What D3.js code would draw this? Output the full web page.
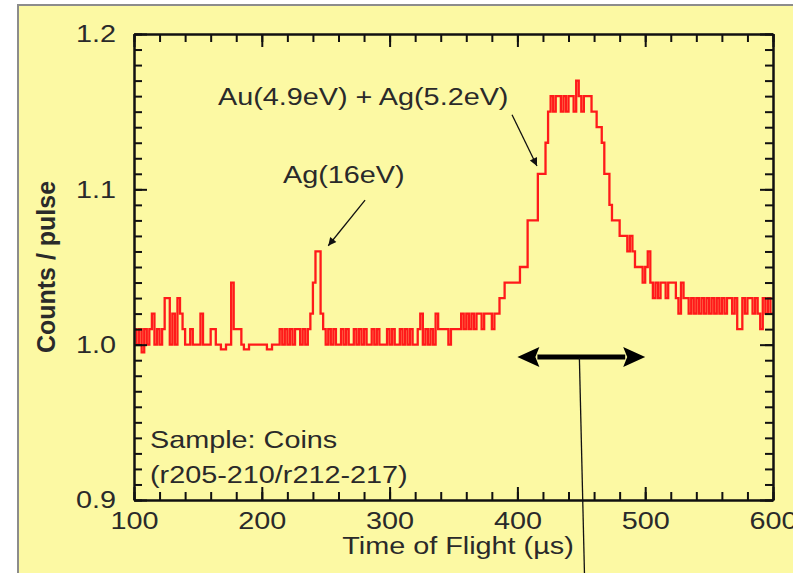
<!DOCTYPE html>
<html lang="en">
<head>
<meta charset="UTF-8" />
<title>Time of flight</title>
<script src="https://cdn.jsdelivr.net/npm/d3@7"></script>
<style>
  body { margin: 0; background: #fff; }
  svg { display: block; }
</style>
</head>
<body>
<svg id="svg"></svg>
<script>
  // TOF spectrum, 2 us bins starting at 100 us
  const tofStart = 100;
  const binWidth = 2;
  const counts = [
    1.01, 1.00, 1.01, 0.995, 1.01, 1.00, 1.01, 1.02, 1.00, 1.01,
    1.00, 1.01, 1.03, 1.03, 1.00, 1.02, 1.00, 1.03, 1.02, 1.01,
    1.00, 1.00, 1.01, 1.00, 1.00, 1.00, 1.02, 1.00, 1.00, 1.00,
    1.01, 1.01, 1.00, 1.00, 0.997, 0.997, 1.00, 1.00, 1.04, 1.01,
    1.01, 1.01, 1.00, 0.997, 0.997, 1.00, 1.00, 1.00, 1.00, 1.00,
    1.00, 1.00, 0.997, 0.997, 1.00, 1.00, 1.00, 1.01, 1.00, 1.01,
    1.00, 1.01, 1.00, 1.01, 1.01, 1.00, 1.01, 1.00, 1.01, 1.02,
    1.04, 1.06, 1.06, 1.02, 1.01, 1.00, 1.01, 1.00, 1.01, 1.00,
    1.00, 1.01, 1.00, 1.01, 1.00, 1.00, 1.01, 1.00, 1.01, 1.00,
    1.01, 1.00, 1.00, 1.01, 1.00, 1.01, 1.00, 1.00, 1.00, 1.01,
    1.00, 1.01, 1.00, 1.00, 1.01, 1.00, 1.01, 1.00, 1.01, 1.00,
    1.00, 1.01, 1.02, 1.00, 1.01, 1.00, 1.01, 1.00, 1.02, 1.01,
    1.01, 1.01, 1.01, 1.00, 1.01, 1.01, 1.01, 1.01, 1.02, 1.01,
    1.02, 1.01, 1.02, 1.01, 1.02, 1.02, 1.01, 1.02, 1.02, 1.02,
    1.01, 1.02, 1.02, 1.03, 1.03, 1.04, 1.04, 1.04, 1.04, 1.04,
    1.04, 1.05, 1.05, 1.05, 1.08, 1.08, 1.08, 1.08, 1.11, 1.11,
    1.11, 1.13, 1.15, 1.16, 1.15, 1.16, 1.16, 1.15, 1.16, 1.15,
    1.16, 1.16, 1.15, 1.17, 1.16, 1.15, 1.16, 1.16, 1.16, 1.15,
    1.15, 1.14, 1.14, 1.13, 1.11, 1.11, 1.09, 1.08, 1.08, 1.08,
    1.07, 1.07, 1.07, 1.06, 1.07, 1.06, 1.05, 1.05, 1.05, 1.04,
    1.05, 1.06, 1.04, 1.03, 1.04, 1.03, 1.04, 1.04, 1.03, 1.04,
    1.04, 1.04, 1.03, 1.02, 1.04, 1.03, 1.03, 1.02, 1.03, 1.02,
    1.03, 1.02, 1.03, 1.02, 1.03, 1.02, 1.03, 1.02, 1.03, 1.02,
    1.03, 1.02, 1.03, 1.03, 1.02, 1.03, 1.01, 1.01, 1.03, 1.02,
    1.03, 1.03, 1.02, 1.03, 1.02, 1.01, 1.03, 1.02, 1.03, 1.02
  ];
  const xTicks = [100, 200, 300, 400, 500, 600];
  const yTicks = [0.9, 1.0, 1.1, 1.2];
  const xMinor = d3.range(100, 601, 20);
  const yMinor = d3.range(90, 121).map(d => d / 100);

  const width = 793, height = 573;
  const bg = "#fcf9a3";
  const font = "'Liberation Sans', Arial, sans-serif";
  const fs = 24;
  const sx = 1.2; // original figure is stretched horizontally

  const svg = d3.select("#svg").attr("width", width).attr("height", height);

  svg.append("rect")
    .attr("x", 18).attr("y", 5)
    .attr("width", 800).attr("height", 600)
    .attr("fill", bg)
    .attr("stroke", "#8c8c8c")
    .attr("stroke-width", 2);

  const x = d3.scaleLinear().domain([100, 600]).range([134, 773]);
  const y = d3.scaleLinear().domain([0.9, 1.2]).range([500, 34]);

  const defs = svg.append("defs");
  defs.append("marker")
    .attr("id", "head")
    .attr("viewBox", "0 0 10 10")
    .attr("refX", 10).attr("refY", 5)
    .attr("markerWidth", 12).attr("markerHeight", 8)
    .attr("markerUnits", "userSpaceOnUse")
    .attr("orient", "auto")
    .append("path").attr("d", "M0,0L10,5L0,10z").attr("fill", "#111");

  // data
  const pts = counts.map((c, i) => [tofStart + i * binWidth, c]);
  pts.push([600, counts[counts.length - 1]]);
  const line = d3.line()
    .x(d => x(d[0]))
    .y(d => y(d[1]))
    .curve(d3.curveStepAfter);
  svg.append("path")
    .datum(pts)
    .attr("d", line)
    .attr("fill", "none")
    .attr("stroke", "#ff1a1a")
    .attr("stroke-width", 2.3);

  // axes, ticks pointing inwards on all four sides
  function styleAxis(g) {
    g.selectAll("path, line").attr("stroke", "#111").attr("stroke-width", 2);
    g.selectAll("text")
      .attr("font-family", font)
      .attr("font-size", fs)
      .attr("fill", "#2a2a2a")
      .attr("transform", `scale(${sx},1)`);
  }
  const axB = svg.append("g").attr("transform", `translate(0,${y(0.9)})`);
  axB.append("g").call(d3.axisBottom(x).tickValues(xMinor).tickFormat("").tickSizeInner(-8).tickSizeOuter(0)).call(styleAxis);
  axB.append("g").call(d3.axisBottom(x).tickValues(xTicks).tickFormat(d3.format("d")).tickSizeInner(-13).tickSizeOuter(0).tickPadding(12)).call(styleAxis);

  const axT = svg.append("g").attr("transform", `translate(0,${y(1.2)})`);
  axT.append("g").call(d3.axisTop(x).tickValues(xMinor).tickFormat("").tickSizeInner(-8).tickSizeOuter(0)).call(styleAxis);
  axT.append("g").call(d3.axisTop(x).tickValues(xTicks).tickFormat("").tickSizeInner(-13).tickSizeOuter(0)).call(styleAxis);

  const axL = svg.append("g").attr("transform", `translate(${x(100)},0)`);
  axL.append("g").call(d3.axisLeft(y).tickValues(yMinor).tickFormat("").tickSizeInner(-8).tickSizeOuter(0)).call(styleAxis);
  axL.append("g").call(d3.axisLeft(y).tickValues(yTicks).tickFormat(d3.format(".1f")).tickSizeInner(-13).tickSizeOuter(0).tickPadding(15)).call(styleAxis);

  const axR = svg.append("g").attr("transform", `translate(${x(600)},0)`);
  axR.append("g").call(d3.axisRight(y).tickValues(yMinor).tickFormat("").tickSizeInner(-8).tickSizeOuter(0)).call(styleAxis);
  axR.append("g").call(d3.axisRight(y).tickValues(yTicks).tickFormat("").tickSizeInner(-13).tickSizeOuter(0)).call(styleAxis);

  // text helper
  function label(px, py, str, opts = {}) {
    return svg.append("text")
      .attr("transform", `translate(${px},${py}) scale(${opts.sx || sx},1)` + (opts.rot ? ` rotate(${opts.rot})` : ""))
      .attr("text-anchor", opts.anchor || "start")
      .attr("font-family", font)
      .attr("font-size", opts.size || fs)
      .attr("font-weight", opts.weight || "normal")
      .attr("fill", "#2a2a2a")
      .text(str);
  }

  label(458, 554, "Time of Flight (\u00b5s)", { anchor: "middle" });
  label(55, 267, "Counts / pulse", { anchor: "middle", rot: -90, weight: "bold", size: 25, sx: 1 });

  label(x(216.6), y(1.1043), "Ag(16eV)");
  label(x(165.7), y(1.154), "Au(4.9eV) + Ag(5.2eV)");
  label(x(112.5), y(0.9337), "Sample: Coins");
  label(x(112.5), y(0.911), "(r205-210/r212-217)");

  // annotation arrows
  svg.append("line")
    .attr("x1", x(280.8)).attr("y1", y(1.093))
    .attr("x2", x(252)).attr("y2", y(1.0637))
    .attr("stroke", "#111").attr("stroke-width", 1.3)
    .attr("marker-end", "url(#head)");
  svg.append("line")
    .attr("x1", x(395.8)).attr("y1", y(1.148))
    .attr("x2", x(415.3)).attr("y2", y(1.115))
    .attr("stroke", "#111").attr("stroke-width", 1.3)
    .attr("marker-end", "url(#head)");

  // double-headed range arrow 400-500 us
  const ay = y(0.992);
  const x0 = x(400), x1 = x(500), hl = 22, hw = 10;
  svg.append("line")
    .attr("x1", x0 + hl - 2).attr("x2", x1 - hl + 2)
    .attr("y1", ay).attr("y2", ay)
    .attr("stroke", "#000").attr("stroke-width", 5);
  svg.append("path")
    .attr("d", `M${x0},${ay}L${x0 + hl},${ay - hw}L${x0 + hl - 4},${ay}L${x0 + hl},${ay + hw}Z`)
    .attr("fill", "#000");
  svg.append("path")
    .attr("d", `M${x1},${ay}L${x1 - hl},${ay - hw}L${x1 - hl + 4},${ay}L${x1 - hl},${ay + hw}Z`)
    .attr("fill", "#000");

  // thin leader line running off the bottom
  svg.append("line")
    .attr("x1", x(448.5)).attr("y1", y(0.9915))
    .attr("x2", x(452.5)).attr("y2", height + 2)
    .attr("stroke", "#111").attr("stroke-width", 1.3);
</script>
</body>
</html>
